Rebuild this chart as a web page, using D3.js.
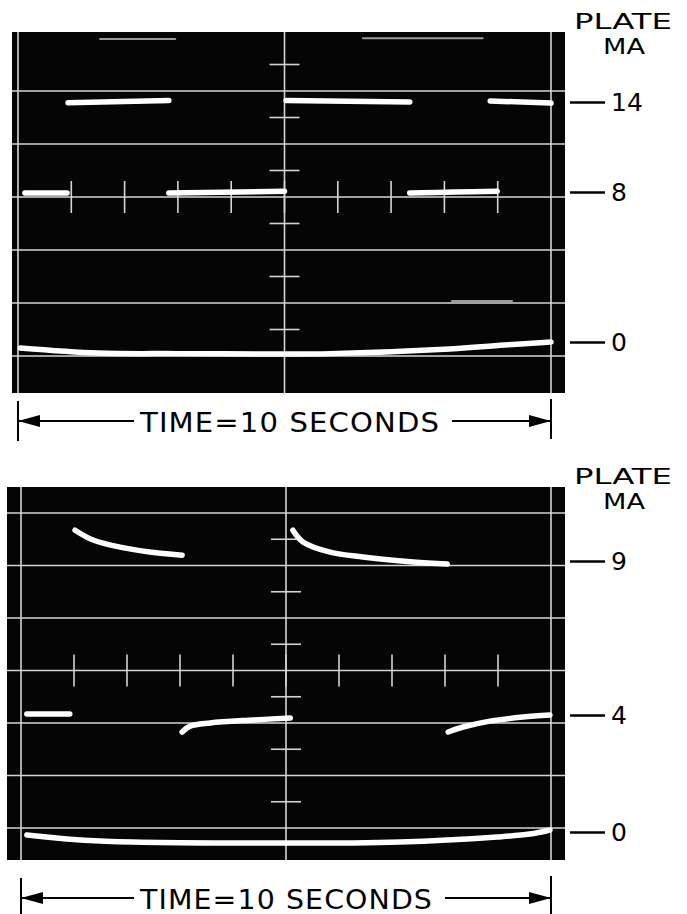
<!DOCTYPE html>
<html><head><meta charset="utf-8">
<script src="https://cdn.jsdelivr.net/npm/d3@7/dist/d3.min.js"></script>
<style>
body{margin:0;background:#fff;}
text{font-family:"DejaVu Sans",sans-serif;}
</style>
</head><body>
<svg id="c" width="687" height="914"></svg>
<script>
// ---------- data ----------
const timeTicks = [1, 2, 3, 4, 5, 6, 7, 8, 9];          // seconds
const topTickValues = [0, 8, 14];                        // plate mA
const bottomTickValues = [0, 4, 9];                      // plate mA
const topTickLabels = ["0", "8", "14"];
const bottomTickLabels = ["0", "4", "9"];

// top record: [time s, plate mA]
const topSegA = [[0.13, 7.95], [0.92, 7.95]];
const topSegB = [[0.94, 13.95], [2.83, 14.1]];
const topSegC = [[2.83, 7.95], [5.0, 8.05]];
const topSegD = [[5.03, 14.1], [7.35, 14.0]];
const topSegE = [[7.35, 7.95], [8.2, 8.0], [8.99, 8.05]];
const topSegF = [[8.86, 14.07], [10.0, 13.93]];
const topZero = [[0.04, -0.32], [1.5, -0.59], [3.0, -0.62], [5.0, -0.64], [5.85, -0.62], [8.1, -0.37], [9.2, -0.15], [10.0, 0.0]];
const topFaint1 = [[1.54, 18.2], [2.95, 18.2]];
const topFaint2 = [[6.47, 18.25], [8.72, 18.25]];
const topFaint3 = [[8.14, 2.19], [9.27, 2.19]];

// bottom record
const botCurve1 = [[1.02, 10.0], [1.36, 9.68], [1.87, 9.45], [2.43, 9.29], [3.04, 9.19]];
const botCurve2 = [[5.13, 10.0], [5.32, 9.62], [5.83, 9.29], [6.45, 9.13], [7.40, 8.97], [8.04, 8.9]];
const botSegLow = [[0.11, 4.03], [0.92, 4.03]];
const botCurve3 = [[3.04, 3.42], [3.19, 3.62], [3.57, 3.73], [4.38, 3.83], [5.08, 3.9]];
const botCurve4 = [[8.06, 3.42], [8.34, 3.59], [8.85, 3.79], [9.47, 3.93], [9.98, 4.0]];
const botZero = [[0.11, -0.1], [1.49, -0.31], [4.94, -0.38], [7.15, -0.34], [8.98, -0.17], [9.6, -0.07], [9.98, 0.07]];

// ---------- drawing ----------
const svg = d3.select("#c");

function panel(cfg) {
  const g = svg.append("g");
  const x = d3.scaleLinear().domain([0, 10]).range(cfg.xRange);
  const y = d3.scaleLinear().domain(cfg.yDomain).range(cfg.yRange);
  const div = d3.scaleLinear().domain([0, cfg.nDiv]).range(cfg.divRange);

  g.append("rect").attr("x", cfg.box[0]).attr("y", cfg.box[1])
    .attr("width", cfg.box[2] - cfg.box[0]).attr("height", cfg.box[3] - cfg.box[1])
    .attr("fill", "#050505");

  const grid = g.append("g").attr("stroke", "#d4d4d4").attr("stroke-width", 1.6).attr("fill", "none");
  grid.selectAll("line.h").data(d3.range(0, cfg.nDiv + 1)).join("line")
    .attr("x1", cfg.box[0]).attr("x2", cfg.box[2])
    .attr("y1", d => div(d)).attr("y2", d => div(d));
  grid.selectAll("line.v").data([0, 5, 10]).join("line")
    .attr("x1", d => x(d)).attr("x2", d => x(d))
    .attr("y1", cfg.box[1]).attr("y2", cfg.box[3]);
  grid.selectAll("line.c").data(cfg.halfDivs).join("line")
    .attr("x1", x(5) - 15).attr("x2", x(5) + 15)
    .attr("y1", d => div(d)).attr("y2", d => div(d));
  grid.selectAll("line.t").data(timeTicks).join("line")
    .attr("x1", d => x(d)).attr("x2", d => x(d))
    .attr("y1", div(cfg.timeDiv) - 16).attr("y2", div(cfg.timeDiv) + 16);

  const line = d3.line().x(d => x(d[0])).y(d => y(d[1])).curve(d3.curveCatmullRom.alpha(0.5));
  const tr = g.append("g").attr("fill", "none").attr("stroke-linecap", "round");
  cfg.faint.forEach(s => tr.append("path").attr("d", line(s)).attr("stroke", "#9a9a9a").attr("stroke-width", 2));
  cfg.traces.forEach(s => tr.append("path").attr("d", line(s)).attr("stroke", "#ffffff").attr("stroke-width", 5.5));

  const ax = g.append("g").attr("transform", `translate(570,0)`)
    .call(d3.axisRight(y).tickValues(cfg.tickValues).tickSize(35).tickPadding(6)
      .tickFormat((d, i) => cfg.tickLabels[i]));
  ax.select(".domain").remove();
  ax.selectAll(".tick line").attr("stroke", "#000").attr("stroke-width", 2.5);
  ax.selectAll(".tick text").attr("fill", "#000").attr("font-size", 25)
    .attr("font-family", "DejaVu Sans, sans-serif");

  g.append("text").attr("x", 623).attr("y", cfg.plateY).attr("text-anchor", "middle")
    .attr("font-size", 21).attr("textLength", 98).attr("lengthAdjust", "spacingAndGlyphs").text("PLATE");
  g.append("text").attr("x", 624).attr("y", cfg.plateY + 25).attr("text-anchor", "middle")
    .attr("font-size", 21).attr("textLength", 42).attr("lengthAdjust", "spacingAndGlyphs").text("MA");

  const ty = cfg.timeY, x0 = x(0), x1 = x(10);
  const tb = g.append("g");
  tb.append("line").attr("x1", x0).attr("x2", x0).attr("y1", ty - 20).attr("y2", ty + 20).attr("stroke", "#000").attr("stroke-width", 2);
  tb.append("line").attr("x1", x1).attr("x2", x1).attr("y1", ty - 22).attr("y2", ty + 18).attr("stroke", "#000").attr("stroke-width", 2);
  tb.append("line").attr("x1", x0).attr("x2", 134).attr("y1", ty).attr("y2", ty).attr("stroke", "#000").attr("stroke-width", 2);
  tb.append("line").attr("x1", cfg.textEnd + 12).attr("x2", x1).attr("y1", ty).attr("y2", ty).attr("stroke", "#000").attr("stroke-width", 2);
  tb.append("path").attr("d", `M${x0},${ty}L${x0 + 22},${ty - 6}L${x0 + 22},${ty + 6}Z`).attr("fill", "#000");
  tb.append("path").attr("d", `M${x1},${ty}L${x1 - 22},${ty - 6}L${x1 - 22},${ty + 6}Z`).attr("fill", "#000");
  tb.append("text").attr("x", 140).attr("y", ty + 11).attr("font-size", 26).attr("letter-spacing", 1)
    .attr("textLength", cfg.textEnd - 140).attr("lengthAdjust", "spacingAndGlyphs").text("TIME=10 SECONDS");
}

panel({
  xRange: [18, 551], yDomain: [0, 8, 14], yRange: [342, 192, 102],
  nDiv: 5, divRange: [91, 356], box: [12, 32, 565, 393],
  halfDivs: [-0.5, 0.5, 1.5, 2.5, 3.5, 4.5], timeDiv: 2,
  traces: [topSegA, topSegB, topSegC, topSegD, topSegE, topSegF, topZero],
  faint: [topFaint1, topFaint2, topFaint3],
  tickValues: topTickValues, tickLabels: topTickLabels,
  plateY: 29, timeY: 421, textEnd: 440
});

panel({
  xRange: [21, 551], yDomain: [0, 4, 9], yRange: [832, 715, 561],
  nDiv: 6, divRange: [513, 828], box: [7, 487, 565, 860],
  halfDivs: [0.5, 1.5, 2.5, 3.5, 4.5, 5.5], timeDiv: 3,
  traces: [botCurve1, botCurve2, botSegLow, botCurve3, botCurve4, botZero],
  faint: [],
  tickValues: bottomTickValues, tickLabels: bottomTickLabels,
  plateY: 484, timeY: 898, textEnd: 433
});
</script>
</body></html>
